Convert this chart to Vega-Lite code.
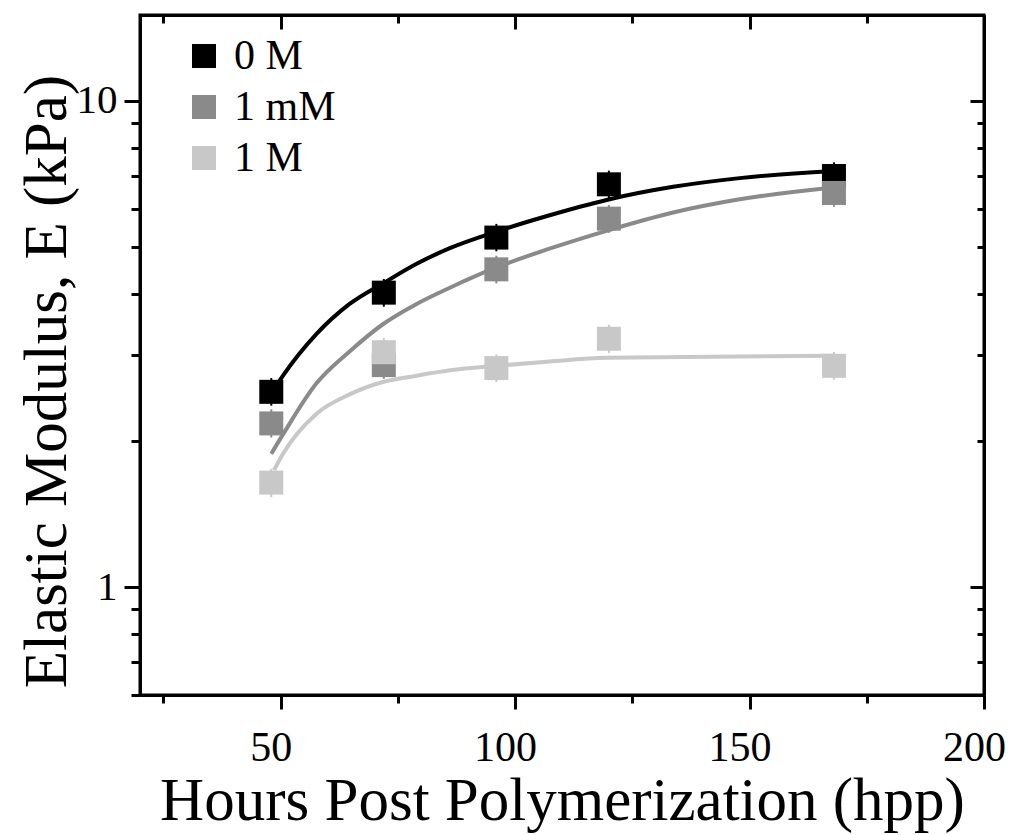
{
  "$schema": "https://vega.github.io/schema/vega-lite/v6.json",
  "width": 844,
  "height": 680,
  "autosize": {"type": "none"},
  "padding": {"left": 140, "top": 15, "right": 25, "bottom": 140},
  "background": "white",
  "config": {
    "font": "Liberation Serif",
    "view": {"stroke": "black", "strokeWidth": 3},
    "axis": {
      "grid": false,
      "domainColor": "black",
      "domainWidth": 3,
      "tickColor": "black",
      "tickWidth": 3,
      "labelColor": "black",
      "labelFont": "Liberation Serif",
      "labelFontSize": 41,
      "labelOverlap": false,
      "labelFlush": false,
      "titleFont": "Liberation Serif",
      "titleFontWeight": "normal",
      "titleColor": "black",
      "titleFontSize": 61
    },
    "legend": {
      "orient": "none",
      "legendX": 43,
      "legendY": 20,
      "padding": 0,
      "symbolType": "square",
      "symbolSize": 576,
      "symbolStrokeWidth": 0,
      "symbolOpacity": 1,
      "labelFont": "Liberation Serif",
      "labelFontSize": 42,
      "labelColor": "black",
      "labelOffset": 9,
      "rowPadding": 9
    }
  },
  "datasets": {
    "points": [
      {"hpp": 48, "E": 2.52, "lo": 2.36, "hi": 2.69, "group": "0 M"},
      {"hpp": 72, "E": 4.03, "lo": 3.77, "hi": 4.30, "group": "0 M"},
      {"hpp": 96, "E": 5.23, "lo": 4.90, "hi": 5.58, "group": "0 M"},
      {"hpp": 120, "E": 6.73, "lo": 6.30, "hi": 7.18, "group": "0 M"},
      {"hpp": 168, "E": 7.0, "lo": 6.55, "hi": 7.47, "group": "0 M"},
      {"hpp": 48, "E": 2.17, "lo": 2.03, "hi": 2.32, "group": "1 mM"},
      {"hpp": 72, "E": 2.86, "lo": 2.68, "hi": 3.06, "group": "1 mM"},
      {"hpp": 96, "E": 4.50, "lo": 4.21, "hi": 4.80, "group": "1 mM"},
      {"hpp": 120, "E": 5.72, "lo": 5.35, "hi": 6.10, "group": "1 mM"},
      {"hpp": 168, "E": 6.46, "lo": 6.05, "hi": 6.90, "group": "1 mM"},
      {"hpp": 48, "E": 1.64, "lo": 1.53, "hi": 1.75, "group": "1 M"},
      {"hpp": 72, "E": 3.04, "lo": 2.85, "hi": 3.25, "group": "1 M"},
      {"hpp": 96, "E": 2.82, "lo": 2.64, "hi": 3.01, "group": "1 M"},
      {"hpp": 120, "E": 3.24, "lo": 3.03, "hi": 3.46, "group": "1 M"},
      {"hpp": 168, "E": 2.85, "lo": 2.67, "hi": 3.04, "group": "1 M"}
    ],
    "curves": [
      {"hpp": 48, "E": 2.50, "group": "0 M"},
      {"hpp": 50.5, "E": 2.72, "group": "0 M"},
      {"hpp": 57.6, "E": 3.31, "group": "0 M"},
      {"hpp": 64.7, "E": 3.82, "group": "0 M"},
      {"hpp": 72, "E": 4.22, "group": "0 M"},
      {"hpp": 79, "E": 4.62, "group": "0 M"},
      {"hpp": 86.2, "E": 4.98, "group": "0 M"},
      {"hpp": 96, "E": 5.38, "group": "0 M"},
      {"hpp": 107, "E": 5.80, "group": "0 M"},
      {"hpp": 119.5, "E": 6.25, "group": "0 M"},
      {"hpp": 133.7, "E": 6.65, "group": "0 M"},
      {"hpp": 147.9, "E": 6.93, "group": "0 M"},
      {"hpp": 168, "E": 7.17, "group": "0 M"},
      {"hpp": 48, "E": 1.88, "group": "1 mM"},
      {"hpp": 50.5, "E": 2.06, "group": "1 mM"},
      {"hpp": 57.6, "E": 2.62, "group": "1 mM"},
      {"hpp": 64.7, "E": 3.05, "group": "1 mM"},
      {"hpp": 71.8, "E": 3.47, "group": "1 mM"},
      {"hpp": 79, "E": 3.82, "group": "1 mM"},
      {"hpp": 86.2, "E": 4.13, "group": "1 mM"},
      {"hpp": 96, "E": 4.54, "group": "1 mM"},
      {"hpp": 107, "E": 4.95, "group": "1 mM"},
      {"hpp": 119.5, "E": 5.40, "group": "1 mM"},
      {"hpp": 133.7, "E": 5.89, "group": "1 mM"},
      {"hpp": 147.9, "E": 6.27, "group": "1 mM"},
      {"hpp": 168, "E": 6.63, "group": "1 mM"},
      {"hpp": 48.6, "E": 1.74, "group": "1 M"},
      {"hpp": 50.5, "E": 1.88, "group": "1 M"},
      {"hpp": 57.6, "E": 2.27, "group": "1 M"},
      {"hpp": 64.7, "E": 2.49, "group": "1 M"},
      {"hpp": 71.8, "E": 2.64, "group": "1 M"},
      {"hpp": 79, "E": 2.72, "group": "1 M"},
      {"hpp": 86.2, "E": 2.79, "group": "1 M"},
      {"hpp": 96, "E": 2.85, "group": "1 M"},
      {"hpp": 107.4, "E": 2.91, "group": "1 M"},
      {"hpp": 119.5, "E": 2.96, "group": "1 M"},
      {"hpp": 168, "E": 2.99, "group": "1 M"}
    ]
  },
  "layer": [
    {
      "data": {"name": "curves"},
      "mark": {"type": "line", "interpolate": "monotone", "strokeWidth": 4},
      "encoding": {
        "x": {"field": "hpp", "type": "quantitative", "scale": {"domain": [20, 200], "nice": false, "zero": false},
          "axis": {
            "title": "Hours Post Polymerization (hpp)",
            "values": [25, 50, 75, 100, 125, 150, 175, 200],
            "labelExpr": "datum.value % 50 == 0 ? datum.label : ''",
            "format": "d",
            "labelFontSize": 42,
            "labelOffset": -10,
            "tickSize": {"condition": {"test": "datum.value % 50 == 0", "value": 14}, "value": 8},
            "labelPadding": 18,
            "titleBaseline": "alphabetic",
            "titleY": 124
          }},
        "y": {"field": "E", "type": "quantitative", "scale": {"type": "log", "domain": [0.6, 15], "nice": false},
          "axis": {
            "title": "Elastic Modulus, E (kPa)",
            "values": [0.6, 0.7, 0.8, 0.9, 1, 2, 3, 4, 5, 6, 7, 8, 9, 10],
            "labelExpr": "datum.value == 1 || datum.value == 10 ? datum.label : ''",
            "format": "~g",
            "tickSize": {"condition": {"test": "datum.value == 1 || datum.value == 10", "value": 16}, "value": 9},
            "labelPadding": 7,
            "titleAngle": 270,
            "titleBaseline": "alphabetic",
            "titleX": -75,
            "titleY": 366
          }},
        "color": {"field": "group", "type": "nominal", "title": null,
          "scale": {"domain": ["0 M", "1 mM", "1 M"], "range": ["#000000", "#8a8a8a", "#c8c8c8"]}},
        "detail": {"field": "group"}
      }
    },
    {
      "data": {"name": "points"},
      "mark": {"type": "rule", "strokeWidth": 2},
      "encoding": {
        "x": {"field": "hpp", "type": "quantitative", "scale": {"domain": [20, 200], "nice": false, "zero": false}, "axis": null},
        "y": {"field": "lo", "type": "quantitative", "scale": {"type": "log", "domain": [0.6, 15], "nice": false}, "axis": null},
        "y2": {"field": "hi"},
        "color": {"field": "group", "type": "nominal", "title": null}
      }
    },
    {
      "data": {"name": "points"},
      "mark": {"type": "point", "shape": "square", "filled": true, "size": 576, "opacity": 1},
      "encoding": {
        "x": {"field": "hpp", "type": "quantitative", "scale": {"domain": [20, 200], "nice": false, "zero": false}, "axis": null},
        "y": {"field": "E", "type": "quantitative", "scale": {"type": "log", "domain": [0.6, 15], "nice": false}, "axis": null},
        "color": {"field": "group", "type": "nominal", "title": null}
      }
    },
    {
      "data": {"name": "points"},
      "mark": {"type": "point", "opacity": 0},
      "encoding": {
        "x": {"field": "hpp", "type": "quantitative", "scale": {"domain": [20, 200], "nice": false, "zero": false},
          "axis": {
            "orient": "top",
            "title": null,
            "labels": false,
            "values": [25, 50, 75, 100, 125, 150, 175, 200],
            "tickSize": {"condition": {"test": "datum.value % 50 == 0", "value": -14}, "value": -8}
          }},
        "y": {"field": "E", "type": "quantitative", "scale": {"type": "log", "domain": [0.6, 15], "nice": false},
          "axis": {
            "orient": "right",
            "title": null,
            "labels": false,
            "values": [0.6, 0.7, 0.8, 0.9, 1, 2, 3, 4, 5, 6, 7, 8, 9, 10],
            "tickSize": {"condition": {"test": "datum.value == 1 || datum.value == 10", "value": -14}, "value": -7}
          }}
      }
    }
  ],
  "resolve": {
    "scale": {"x": "independent", "y": "independent"},
    "axis": {"x": "independent", "y": "independent"}
  }
}
